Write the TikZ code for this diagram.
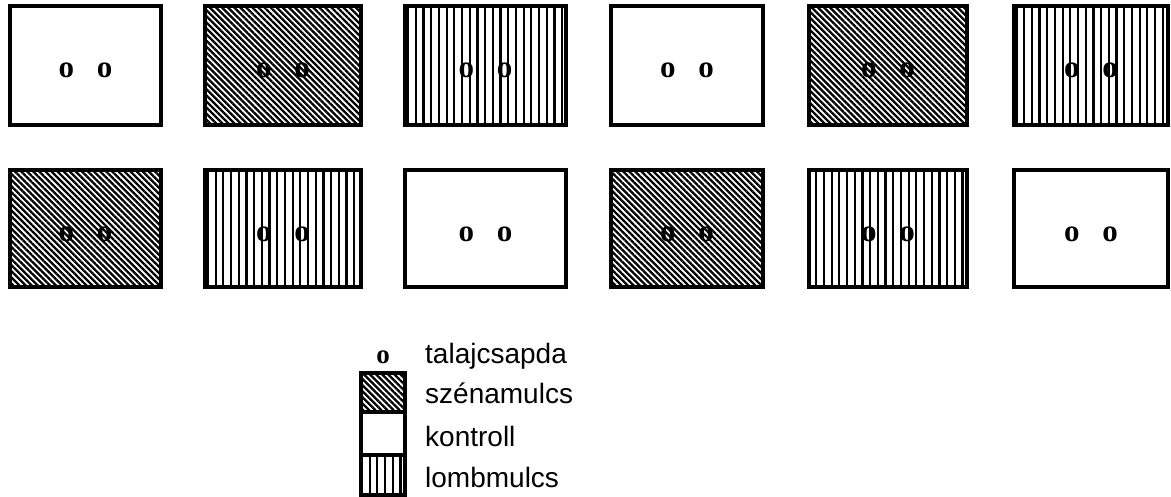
\documentclass[tikz,border=0pt]{standalone}
\usepackage{fontspec}
\setmainfont{Liberation Serif}
\setsansfont{Liberation Sans}
\usetikzlibrary{patterns.meta}
\tikzset{
  plot/.style={draw, line width=4pt, inner sep=0pt},
  hay/.style={pattern={Lines[angle=-45,distance=4.3pt,line width=2.3pt]}},
  leaf/.style={pattern={Lines[angle=90,distance=7.7pt,line width=2.2pt]}},
  bare/.style={fill=white},
  trap/.style={font=\fontsize{31}{31}\selectfont\bfseries, inner sep=0pt},
  keytext/.style={font=\sffamily\fontsize{28}{32}\selectfont, anchor=base west, inner sep=0pt},
  keybox/.style={draw, line width=4pt, inner sep=0pt, minimum width=44pt}
}
\begin{document}
\begin{tikzpicture}[x=1pt,y=-1pt]
\useasboundingbox (0,0) rectangle (1171,497);

% plot layout: column centre / width, fill per row
\foreach \n/\cx/\w/\fa/\fb in {1/85.5/151/bare/hay, 2/283/156/hay/leaf, 3/485.5/161/leaf/bare,
                               4/687/152/bare/hay, 5/888/158/hay/leaf, 6/1091/154/leaf/bare}{
  \node[plot, \fa, minimum width=\w, minimum height=119] (a\n) at (\cx,65.5) {};
  \node[trap] (ta\n) at ([yshift=-4.5pt]a\n.center) {o\hspace{23pt}o};
  \node[plot, \fb, minimum width=\w, minimum height=117] (b\n) at (\cx,228.5) {};
  \node[trap] (tb\n) at ([yshift=-5.5pt]b\n.center) {o\hspace{23pt}o};
}

% key
\node[trap, font=\fontsize{27}{27}\selectfont\bfseries] (ko) at (383,357) {o};
\node[keybox, hay, minimum height=39] (kh) at (383,392.5) {};
\node[keybox, bare, minimum height=43] (kc) at (383,433.5) {};
\node[keybox, leaf, minimum height=40] (kl) at (383,475) {};
\node[keytext] (lo) at (425,363) {talajcsapda};
\node[keytext] (lh) at (425,403) {szénamulcs};
\node[keytext] (lc) at (425,446) {kontroll};
\node[keytext] (ll) at (425,487) {lombmulcs};
\end{tikzpicture}
\end{document}
